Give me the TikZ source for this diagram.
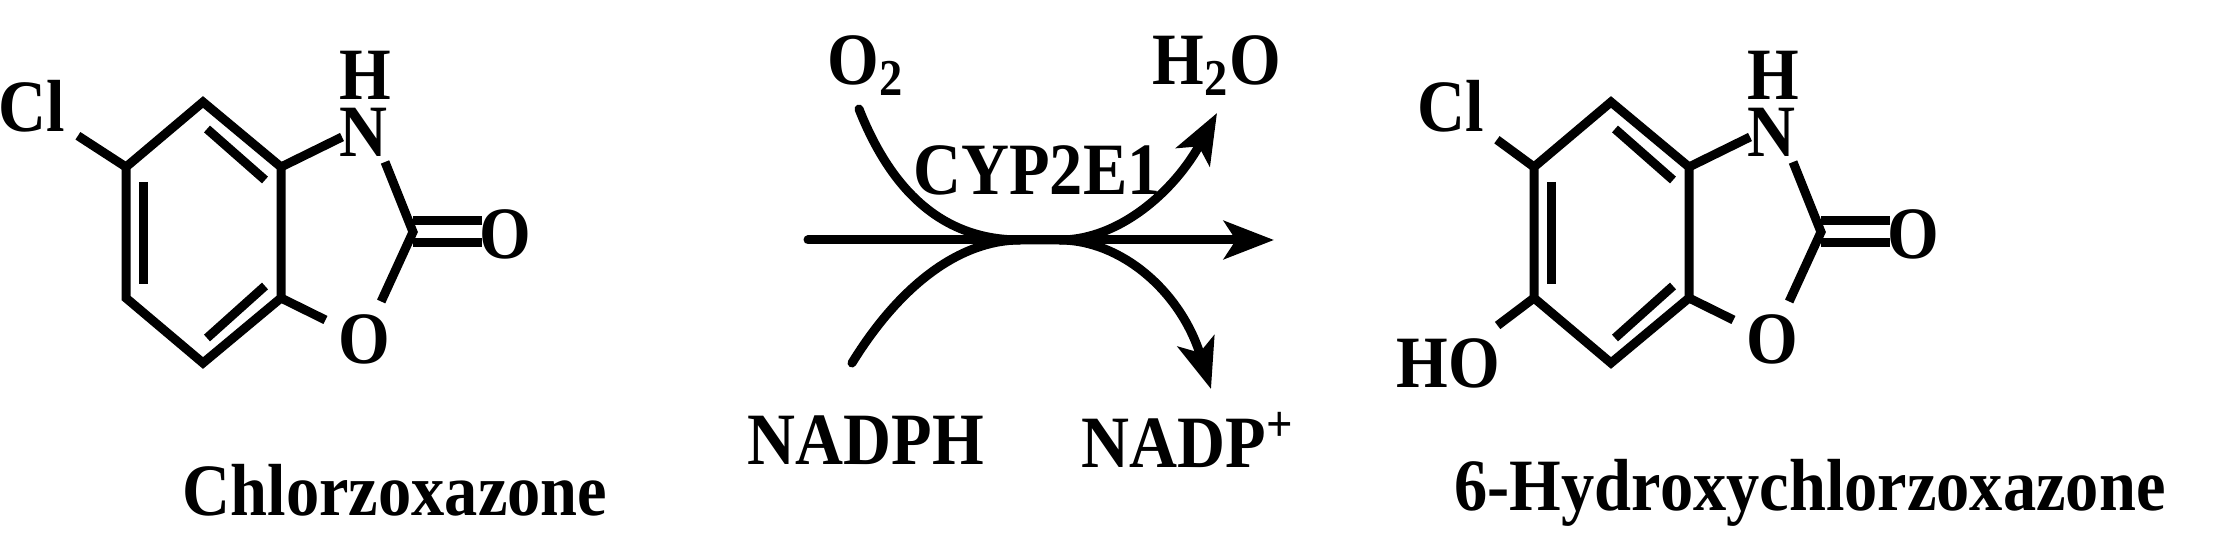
\documentclass[tikz,border=0pt]{standalone}
\usepackage{fontspec}
\setmainfont{Liberation Serif}
\usetikzlibrary{arrows.meta}
\newcommand{\cz}[1]{\scalebox{0.9}[1]{#1}}
\newcommand{\benzox}[2]{%
  \coordinate (#1t) at (#2+203,102);
  \coordinate (#1ul) at (#2+126,167);
  \coordinate (#1ll) at (#2+126,298);
  \coordinate (#1b) at (#2+203,363);
  \coordinate (#1lr) at (#2+281,298);
  \coordinate (#1ur) at (#2+281,167);
  \coordinate (#1c) at (#2+413,232);
  \node[atom, inner ysep=0.2mm] (#1N) at (#2+363,132) {\cz{N}};
  \node[lbl] (#1H) at (#2+365,75) {\cz{H}};
  \node[atom] (#1O) at (#2+364,339) {\cz{O}};
  \node[atom] (#1Ok) at (#2+505,234) {\cz{O}};
  \draw[bond] (#1t) -- (#1ul) -- (#1ll) -- (#1b) -- (#1lr) -- (#1ur) -- cycle;
  \draw[bond] (#2+143,182) -- (#2+143,284);
  \draw[bond] (#2+207,129) -- (#2+265,180);
  \draw[bond] (#2+265,286) -- (#2+207,338);
  \draw[bond] (#1ur) -- (#2+342,137);
  \draw[bond] (#2+385,162) -- (#1c) -- (#1O);
  \draw[bond] (#1lr) -- (#1O);
  \draw[bond] (#2+413,221) -- (#2+482,221);
  \draw[bond] (#2+413,243) -- (#2+482,243);
}
\begin{document}
\begin{tikzpicture}[x=0.1mm,y=-0.1mm,
  lbl/.style={font=\fontsize{21}{24}\selectfont\bfseries, inner sep=0pt},
  atom/.style={lbl, inner sep=1.2mm},
  bond/.style={line width=0.9mm, line join=miter, line cap=butt},
  rxn/.style={line width=0.9mm, line cap=round},
  tip/.style={-{Stealth[length=5mm,width=3.8mm,inset=1.2mm]}}]
\useasboundingbox (0,0) rectangle (2214,551);
% left molecule
\benzox{a}{0}
\node[atom] (aCl) at (32,106) {\cz{Cl}};
\draw[bond] (aul) -- (aCl);
\node[lbl] (aname) at (395,490) {\cz{Chlorzoxazone}};
% right molecule
\benzox{b}{1408}
\node[atom] (bCl) at (1451,106) {\cz{Cl}};
\node[atom] (bHO) at (1448,363) {\cz{HO}};
\draw[bond] (bul) -- (bCl);
\draw[bond] (bll) -- (bHO);
\node[lbl] (bname) at (1810,493) {\cz{6-Hydroxychlorzoxazone}};
% reaction
\coordinate (s) at (808,240);
\coordinate (e) at (1274,240);
\coordinate (m1) at (1020,240);
\coordinate (m2) at (1060,240);
\coordinate (o2s) at (859,109);
\coordinate (h2oe) at (1217,113);
\coordinate (nads) at (852,363);
\coordinate (nade) at (1211,389);
\node[lbl] (o2) at (866,66) {\cz{O\textsubscript{2}}};
\node[lbl] (h2o) at (1217,66) {\cz{H\textsubscript{2}O}};
\node[lbl] (cyp) at (1037,170) {\cz{CYP2E1}};
\node[lbl] (nadph) at (866,440) {\cz{NADPH}};
\node[lbl] (nadp) at (1188,440) {\cz{NADP\textsuperscript{+}}};
\draw[rxn,tip] (s) -- (e);
\draw[rxn] (o2s) .. controls (895,200) and (950,240) .. (m1) -- (m2);
\draw[rxn,tip] (m2) .. controls (1120,240) and (1175,190) .. (h2oe);
\draw[rxn] (nads) .. controls (900,285) and (960,240) .. (m1);
\draw[rxn,tip] (m2) .. controls (1120,240) and (1180,290) .. (nade);
\end{tikzpicture}
\end{document}
